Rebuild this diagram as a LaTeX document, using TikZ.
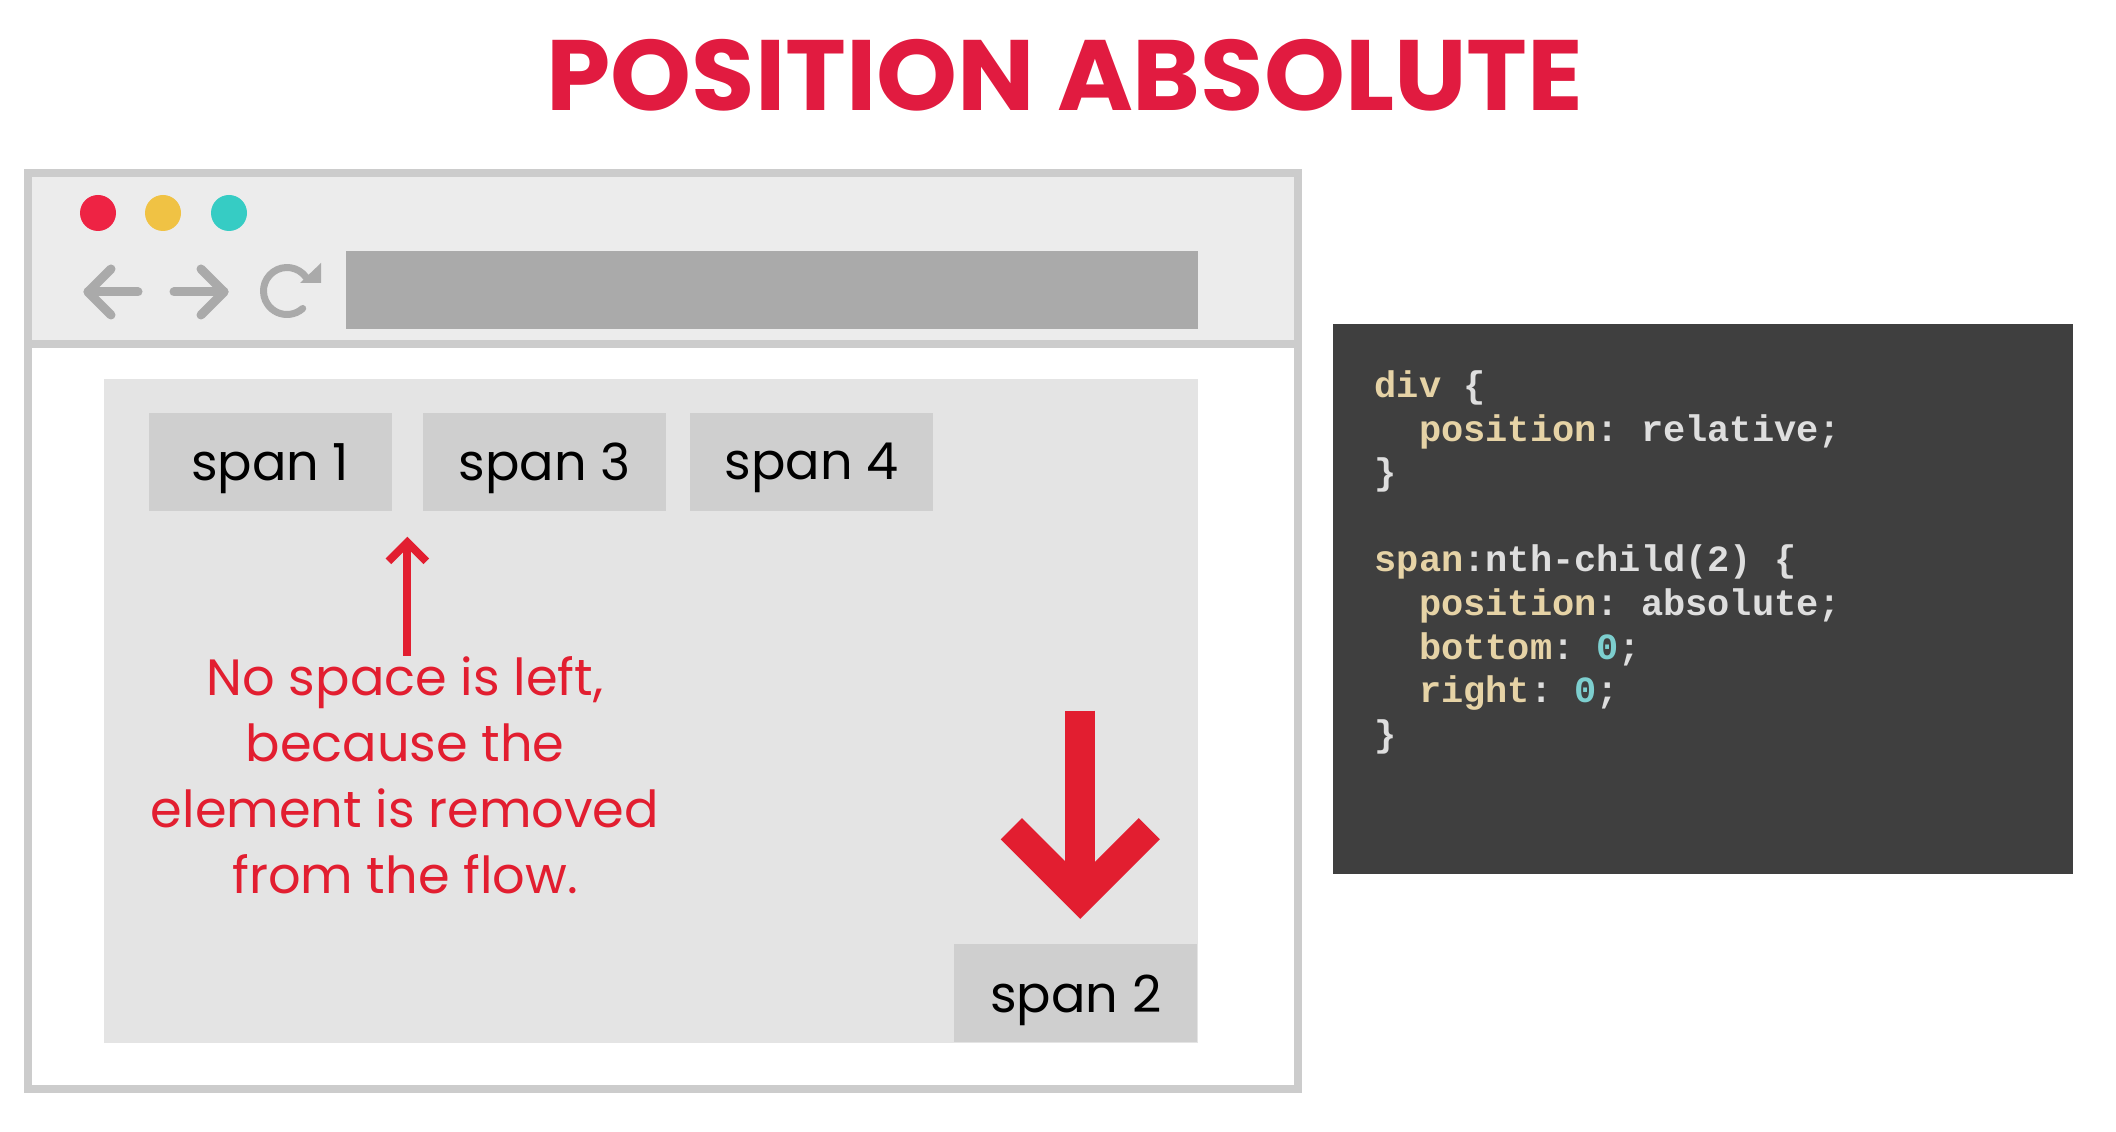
\documentclass[tikz,border=0pt]{standalone}
\usepackage{fontspec}
\setmainfont{Poppins}
\newfontfamily\codefont{Liberation Mono}
\usetikzlibrary{positioning,calc}

\definecolor{cssred}{RGB}{226,30,48}
\definecolor{titlered}{RGB}{225,27,64}
\definecolor{framegray}{RGB}{204,204,204}
\definecolor{barbg}{RGB}{236,236,236}
\definecolor{navgray}{RGB}{170,170,170}
\definecolor{divgray}{RGB}{228,228,228}
\definecolor{spangray}{RGB}{207,207,207}
\definecolor{dotred}{RGB}{238,35,68}
\definecolor{dotyellow}{RGB}{240,194,68}
\definecolor{dotteal}{RGB}{54,204,196}
\definecolor{codebg}{RGB}{63,63,63}
\definecolor{codetxt}{RGB}{222,222,222}
\definecolor{codekey}{RGB}{230,211,166}
\definecolor{codenum}{RGB}{125,207,207}

\begin{document}
\frenchspacing
\begin{tikzpicture}[x=0.3pt, y=-0.3pt,
    spanbox/.style={fill=spangray, minimum width=72.9pt, minimum height=29.4pt,
      inner sep=0pt, text depth=0pt, font=\fontsize{15.3}{18}\selectfont},
    navicon/.style={draw=navgray, line width=2.7pt, line cap=round, line join=round},
    bigred/.style={draw=cssred, line width=9pt, line join=miter},
    smallred/.style={draw=cssred, line width=2.4pt, line join=miter}]
  \useasboundingbox (0,0) rectangle (2116,1132);

  % title
  \node[text=titlered, xscale=1.03, font=\bfseries\fontsize{30}{35}\selectfont] (title) at (1065,75) {POSITION ABSOLUTE};

  % browser window
  \fill[barbg] (28,173) rectangle (1298,344);
  \draw[framegray, line width=2.4pt] (28,344) -- (1298,344);
  \draw[framegray, line width=2.4pt] (28,173) rectangle (1298,1089);
  \fill[dotred] (98,213) circle[radius=18];
  \fill[dotyellow] (163,213) circle[radius=18];
  \fill[dotteal] (229,213) circle[radius=18];
  \fill[navgray] (346,251) rectangle (1198,329);

  % back, forward, reload
  \draw[navicon] (138,292) -- (88,292);
  \draw[navicon] (111,269) -- (88,292) -- (111,315);
  \draw[navicon] (174,292) -- (224,292);
  \draw[navicon] (201,269) -- (224,292) -- (201,315);
  \draw[navicon, line width=2.1pt] (306,277.2) arc[start angle=-36, end angle=-312, radius=23.5];
  \fill[navgray] (300,283) -- (321,283) -- (321,263) -- cycle;

  % div with spans
  \fill[divgray] (104,379) rectangle (1198,1043);
  \node[spanbox, anchor=north west] (span1) at (148,412) {span 1};
  \node[spanbox, right=9pt of span1] (span3) {span 3};
  \node[spanbox, right=6.9pt of span3] (span4) {span 4};
  \node[spanbox, anchor=south east] (span2) at (1198,1043) {span 2};

  % note and arrows
  \node[text=cssred, align=center, inner sep=0pt, anchor=north,
    font=\fontsize{15.3}{19.8}\selectfont] (note) at (405,656)
    {No space is left,\\because the\\element is removed\\from the flow.};
  \coordinate (gaptip) at ($(span1.south east)!0.5!(span3.south west)+(0,31)$);
  \draw[smallred] (note.north -| gaptip) -- (gaptip);
  \draw[smallred] ($(gaptip)+(-19,19)$) -- (gaptip) -- ($(gaptip)+(19,19)$);

  \coordinate (droptip) at ($(span2.north)+(4.5,-46)$);
  \draw[bigred] ($(droptip)+(0,-187)$) -- (droptip);
  \draw[bigred] ($(droptip)+(-69,-69)$) -- (droptip) -- ($(droptip)+(69,-69)$);

  % css code
  \fill[codebg] (1333,324) rectangle (2073,874);
  \node[anchor=north west, inner sep=0pt, align=left, text=codetxt,
    font=\codefont\bfseries\fontsize{11.1}{13.08}\selectfont] (code) at (1374,370)
    {\textcolor{codekey}{div} \{\\
     \phantom{xx}\textcolor{codekey}{position}: relative;\\
     \}\\[13.08pt]
     \textcolor{codekey}{span}:nth-child(2) \{\\
     \phantom{xx}\textcolor{codekey}{position}: absolute;\\
     \phantom{xx}\textcolor{codekey}{bottom}: \textcolor{codenum}{0};\\
     \phantom{xx}\textcolor{codekey}{right}: \textcolor{codenum}{0};\\
     \}};
\end{tikzpicture}
\end{document}
